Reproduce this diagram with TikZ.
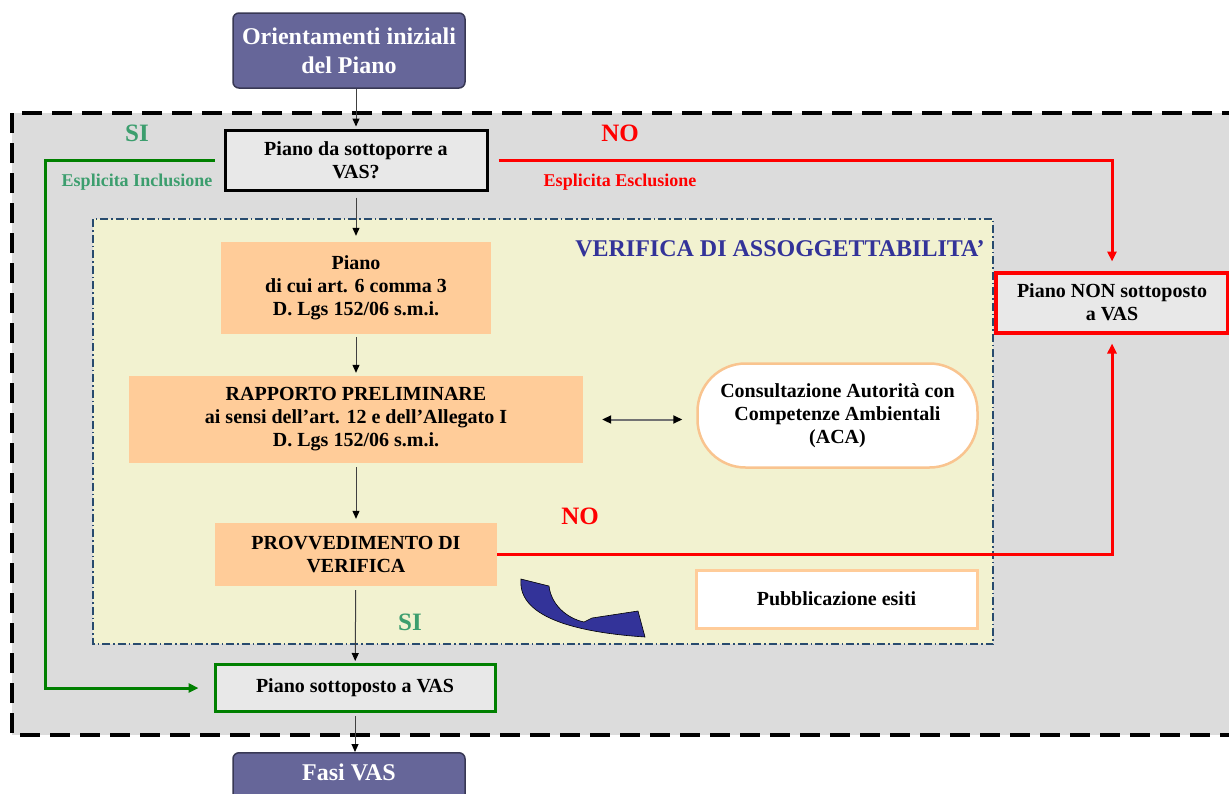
\documentclass[tikz,border=0pt]{standalone}
\usepackage{fontspec}
\setmainfont{Liberation Serif}
\usepackage{xcolor}
\usetikzlibrary{arrows.meta}
\definecolor{outergray}{RGB}{220,220,220}
\definecolor{boxgray}{RGB}{232,232,232}
\definecolor{headviolet}{RGB}{102,102,153}
\definecolor{peach}{RGB}{255,204,153}
\definecolor{acaorange}{RGB}{249,196,143}
\definecolor{paleyellow}{RGB}{242,242,208}
\definecolor{slateblue}{RGB}{40,75,110}
\definecolor{verblue}{RGB}{51,51,153}
\definecolor{sigreen}{RGB}{60,158,110}
\definecolor{linegreen}{RGB}{0,128,0}

\begin{document}
\begin{tikzpicture}[x=1pt,y=-1pt,
  txt/.style={font=\fontsize{20}{23}\selectfont\bfseries, align=center, inner sep=0pt},
  head/.style={txt, font=\fontsize{24}{29}\selectfont\bfseries, text=white, fill=headviolet, draw=headviolet!55!black, line width=1.5pt, rounded corners=6pt, minimum width=232pt},
  graybox/.style={txt, fill=boxgray, minimum height=60pt},
  peachbox/.style={txt, fill=peach},
  whitebox/.style={txt, fill=white},
  big/.style={font=\fontsize{25}{25}\selectfont\bfseries, inner sep=0pt},
  small/.style={font=\fontsize{18}{18}\selectfont\bfseries, inner sep=0pt},
  arr/.style={draw=black!75, line width=1pt, -{Triangle[length=8pt,width=7pt,color=black]}, shorten <=4pt, shorten >=4pt},
  darr/.style={draw=black!55, line width=2pt, {Triangle[length=9pt,width=8pt,color=black]}-{Triangle[length=9pt,width=8pt,color=black]}},
  gline/.style={draw=linegreen, line width=3pt, -{Triangle[length=10pt,width=9pt]}},
  rline/.style={draw=red, line width=3pt, -{Triangle[length=10pt,width=9pt]}}]
\useasboundingbox (0,0) rectangle (1229,793);
\clip (0,0) rectangle (1229,793);
\fill[white] (0,0) rectangle (1229,793);
% background frames
\draw[line width=4pt, dash pattern=on 20pt off 10pt, fill=outergray] (12,113) rectangle (1250,735);
\draw[slateblue, line width=1.5pt, dash pattern=on 8pt off 3pt on 1.5pt off 3pt, fill=paleyellow] (93,219) rectangle (993,644);

% boxes
\node[head, minimum height=75pt] (orient) at (349,50.5) {Orientamenti iniziali\\del Piano};
\node[graybox, draw=black, line width=3pt, minimum width=262pt] (vas) at (356,160) {Piano da sottoporre a\\VAS?};
\node[peachbox, minimum width=270pt, minimum height=92pt] (piano) at (356,288) {Piano\\di cui art. 6 comma 3\\D. Lgs 152/06 s.m.i.};
\node[peachbox, minimum width=454pt, minimum height=87pt] (rapporto) at (356,419.5) {RAPPORTO PRELIMINARE\\ai sensi dell’art. 12 e dell’Allegato I\\D. Lgs 152/06 s.m.i.};
\node[peachbox, minimum width=282pt, minimum height=63pt] (provv) at (356,554.5) {PROVVEDIMENTO DI\\VERIFICA};
\node[whitebox, draw=acaorange, line width=2.5pt, rounded corners=48pt, minimum width=280pt, minimum height=104pt] (aca) at (837.5,415.5) {Consultazione Autorità con\\Competenze Ambientali\\(ACA)};
\node[whitebox, draw=peach, line width=3pt, minimum width=281pt, minimum height=58pt] (pubbl) at (836.5,599) {Pubblicazione esiti};
\node[graybox, draw=red, line width=4pt, minimum width=232pt, minimum height=60pt] (nonvas) at (1112,302.5) {Piano NON sottoposto\\a VAS};
\node[graybox, draw=linegreen, line width=3pt, minimum width=280pt, minimum height=47pt] (sivas) at (355,688) {Piano sottoposto a VAS};
\node[head, anchor=north, text height=28pt, text depth=30pt] (fasi) at (349,752) {Fasi VAS};

% labels
\node[big, text=sigreen] (si1) at (137,133) {SI};
\node[big, text=red] (no1) at (620,133) {NO};
\node[small, text=sigreen] (incl) at (137,182) {Esplicita Inclusione};
\node[small, text=red] (escl) at (620,182) {Esplicita Esclusione};
\node[big, font=\fontsize{24}{24}\selectfont\bfseries, text=verblue] (verifica) at (780,249) {VERIFICA DI ASSOGGETTABILITA’};
\node[big, text=red] (no2) at (580,516) {NO};
\node[big, text=sigreen] (si2) at (410,622) {SI};

% connectors
\draw[arr, shorten <=0pt, shorten >=2pt] (orient.south -| vas.north) -- (vas.north);
\draw[arr, shorten <=6pt, shorten >=6pt] (vas) -- (piano);
\draw[arr, shorten <=3pt, shorten >=3pt] (piano) -- (rapporto);
\draw[arr] (rapporto) -- (provv);
\draw[arr, shorten >=2pt] (provv) -- (sivas);
\draw[arr, shorten <=3pt, shorten >=0pt] (sivas.south) -- (fasi.north -| sivas.south);
\draw[darr, shorten <=19pt, shorten >=14pt] (rapporto.east) -- (rapporto.east -| aca.west);

\coordinate (gleft) at (45,0);
\draw[gline, shorten <=9pt, shorten >=15pt] (vas.west) -- (vas.west -| gleft) -- (sivas.west -| gleft) -- (sivas.west);
\draw[rline, shorten <=10pt, shorten >=9pt] (vas.east) -| (nonvas.north);
\draw[rline, shorten >=9pt] (provv.east) -| (nonvas.south);

% curved arrow
\draw[black, line width=0.6pt, fill=verblue] (521,579) -- (549,586) .. controls (551,604) and (566,618) .. (584,622) -- (592,618) -- (638,611) -- (645,637) .. controls (585,633) and (517,620) .. (521,579) -- cycle;
\end{tikzpicture}
\end{document}
